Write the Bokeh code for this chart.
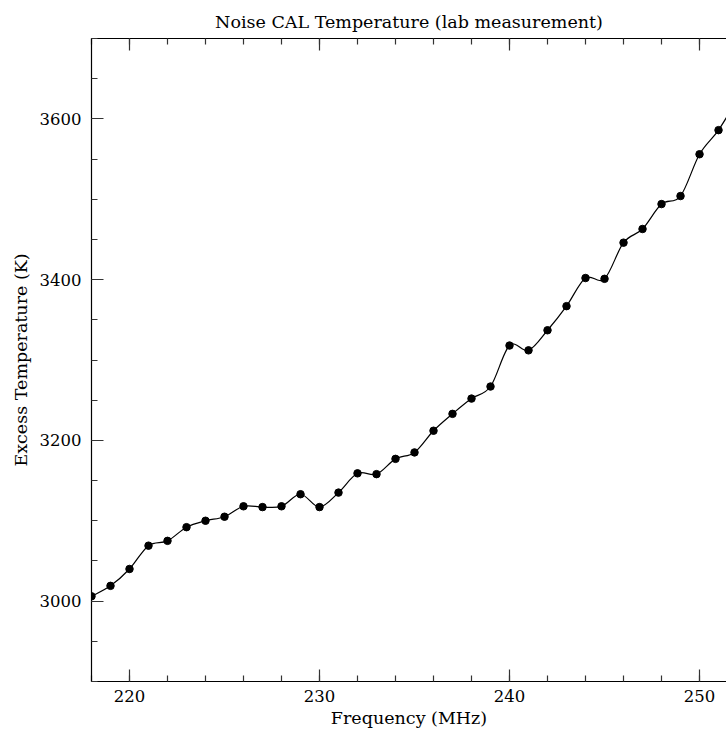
from bokeh.plotting import figure
from bokeh.models import LinearAxis, FixedTicker, Range1d, ColumnDataSource
from bokeh.embed import file_html
from bokeh.resources import INLINE
import numpy as np

# ---- data ----
freq_mhz = [218, 219, 220, 221, 222, 223, 224, 225, 226, 227, 228, 229, 230,
            231, 232, 233, 234, 235, 236, 237, 238, 239, 240, 241, 242, 243,
            244, 245, 246, 247, 248, 249, 250, 251, 252]
temp_k = [3006, 3019, 3040, 3069, 3075, 3092, 3100, 3105, 3118, 3117, 3118,
          3133, 3117, 3135, 3159, 3158, 3177, 3185, 3212, 3233, 3252, 3267,
          3318, 3312, 3337, 3367, 3402, 3401, 3446, 3463, 3494, 3504, 3556,
          3586, 3625]

x_major = [220, 230, 240, 250]
x_minor = [218, 220, 222, 224, 226, 228, 230, 232, 234, 236, 238, 240, 242,
           244, 246, 248, 250, 252]
y_major = [3000, 3200, 3400, 3600]
y_minor = [2900, 2950, 3000, 3050, 3100, 3150, 3200, 3250, 3300, 3350, 3400,
           3450, 3500, 3550, 3600, 3650, 3700]

title_text = "Noise CAL Temperature (lab measurement)"
x_label = "Frequency (MHz)"
y_label = "Excess Temperature (K)"

FONT = "DejaVu Serif"

p = figure(width=726, height=737, output_backend="svg", toolbar_location=None,
           x_range=Range1d(218, 251.42), y_range=Range1d(2900, 3700),
           title=title_text)
p.min_border_left = 91
p.min_border_right = 0
p.min_border_top = 38
p.min_border_bottom = 56
p.outline_line_color = None
p.xgrid.visible = False
p.ygrid.visible = False
p.background_fill_color = "white"
p.border_fill_color = "white"

p.title.text_font = FONT
p.title.text_font_size = "17.5px"
p.title.text_font_style = "normal"
p.title.align = "center"
p.title.text_color = "black"
p.title.standoff = 14


def style(ax):
    ax.axis_line_color = "black"
    ax.axis_line_width = 1.2
    ax.major_tick_in = 12
    ax.major_tick_out = 0
    ax.minor_tick_in = 6
    ax.minor_tick_out = 0
    ax.major_tick_line_color = "#333333"
    ax.minor_tick_line_color = "#333333"
    ax.major_tick_line_width = 1.2
    ax.minor_tick_line_width = 1.2
    ax.major_label_text_font = FONT
    ax.major_label_text_font_size = "16.5px"
    ax.major_label_text_color = "black"
    ax.axis_label_text_font = FONT
    ax.axis_label_text_font_size = "17.5px"
    ax.axis_label_text_font_style = "normal"
    ax.axis_label_text_color = "black"


xa = p.xaxis[0]
xa.ticker = FixedTicker(ticks=x_major, minor_ticks=x_minor)
style(xa)
xa.major_label_standoff = 8
xa.axis_label = x_label
xa.axis_label_standoff = 3

ya = p.yaxis[0]
ya.ticker = FixedTicker(ticks=y_major, minor_ticks=y_minor)
style(ya)
ya.major_label_standoff = 10
ya.major_label_orientation = "horizontal"
ya.axis_label = y_label
ya.axis_label_standoff = 6

# top frame: short ticks from one unlabeled axis, long ticks from another
top_minor = LinearAxis(ticker=FixedTicker(ticks=[], minor_ticks=x_minor))
style(top_minor)
top_minor.major_label_standoff = 0
p.add_layout(top_minor, "above")

top_major = LinearAxis(ticker=FixedTicker(ticks=[], minor_ticks=x_major))
style(top_major)
top_major.minor_tick_in = 12
top_major.major_label_standoff = 0
top_major.axis_line_color = None
p.add_layout(top_major, "above")

# ---- smooth curve through the points (Catmull-Rom as cubic Beziers) ----
x = np.array(freq_mhz, dtype=float)
y = np.array(temp_k, dtype=float)
xp = np.concatenate([[x[0]], x, [x[-1]]])
yp = np.concatenate([[y[0]], y, [y[-1]]])
n = len(x)
x0 = x[:-1]; y0 = y[:-1]
x1 = x[1:]; y1 = y[1:]
cx0 = xp[1:n] + (xp[2:n + 1] - xp[0:n - 1]) / 6.0
cy0 = yp[1:n] + (yp[2:n + 1] - yp[0:n - 1]) / 6.0
cx1 = xp[2:n + 1] - (xp[3:n + 2] - xp[1:n]) / 6.0
cy1 = yp[2:n + 1] - (yp[3:n + 2] - yp[1:n]) / 6.0

bsrc = ColumnDataSource(dict(x0=x0, y0=y0, x1=x1, y1=y1,
                             cx0=cx0, cy0=cy0, cx1=cx1, cy1=cy1))
p.bezier(x0="x0", y0="y0", x1="x1", y1="y1", cx0="cx0", cy0="cy0",
         cx1="cx1", cy1="cy1", source=bsrc, line_color="black", line_width=1.2)

src = ColumnDataSource(dict(f=freq_mhz, t=temp_k))
p.scatter("f", "t", source=src, size=7.5, color="black")

open("out.html", "w").write(file_html(p, INLINE))
